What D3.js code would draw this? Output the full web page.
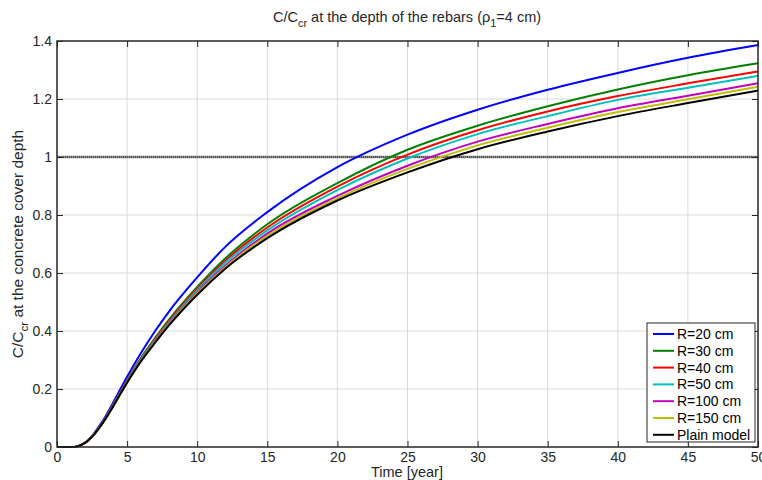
<!DOCTYPE html>
<html><head><meta charset="utf-8">
<script src="https://cdn.jsdelivr.net/npm/d3@7"></script>
<style>body{margin:0;background:#fff}svg{font-family:"Liberation Sans",Arial,sans-serif}</style>
</head><body><div id="chart"></div>
<script>
const times = [0,1,1.5,2,2.5,3,3.5,4,5,6,7,8,10,12,15,20,25,30,35,40,45,50];
const seriesNames = ["R=20 cm","R=30 cm","R=40 cm","R=50 cm","R=100 cm","R=150 cm","Plain model"];
const seriesColors = ["#0000ff","#008000","#ff0000","#00bfbf","#bf00bf","#bfbf00","#000000"];
const r20 = [0,0,0.003,0.015,0.038,0.071,0.109,0.153,0.242,0.325,0.4,0.468,0.585,0.69,0.81,0.965,1.077,1.163,1.232,1.29,1.342,1.386];
const r30 = [0,0,0.003,0.014,0.036,0.067,0.103,0.145,0.23,0.308,0.376,0.44,0.552,0.65,0.768,0.91,1.025,1.108,1.175,1.233,1.282,1.323];
const r40 = [0,0,0.003,0.014,0.036,0.066,0.102,0.144,0.228,0.305,0.372,0.435,0.546,0.642,0.757,0.898,1.008,1.092,1.157,1.21,1.254,1.295];
const r50 = [0,0,0.003,0.014,0.035,0.066,0.101,0.143,0.226,0.302,0.368,0.43,0.541,0.635,0.747,0.886,0.995,1.079,1.141,1.197,1.239,1.28];
const r100 = [0,0,0.003,0.014,0.035,0.065,0.1,0.141,0.224,0.299,0.364,0.425,0.534,0.625,0.736,0.866,0.97,1.053,1.114,1.168,1.211,1.254];
const r150 = [0,0,0.003,0.014,0.035,0.065,0.1,0.14,0.223,0.298,0.362,0.423,0.53,0.62,0.728,0.857,0.959,1.04,1.101,1.155,1.199,1.242];
const plain = [0,0,0.003,0.014,0.035,0.065,0.1,0.14,0.222,0.296,0.36,0.42,0.525,0.615,0.72,0.85,0.947,1.027,1.088,1.141,1.186,1.229];
const xTicks = [0,5,10,15,20,25,30,35,40,45,50];
const yTicks = [0,0.2,0.4,0.6,0.8,1,1.2,1.4];
const threshold = 1;

const allSeries = [r20,r30,r40,r50,r100,r150,plain];
const W = 762, H = 480;
const m = {left:57, right:4, top:41, bottom:33};
const svg = d3.select("#chart").append("svg").attr("width",W).attr("height",H);
const x = d3.scaleLinear().domain([0,50]).range([m.left, W-m.right]);
const y = d3.scaleLinear().domain([0,1.4]).range([H-m.bottom, m.top]);
const x0=x.range()[0], x1=x.range()[1], y0=y.range()[0], y1=y.range()[1];

// grid
const g = svg.append("g");
g.selectAll(".gx").data(xTicks.slice(1,-1)).join("line")
  .attr("x1",d=>x(d)).attr("x2",d=>x(d)).attr("y1",y0).attr("y2",y1)
  .attr("stroke","#d9d9d9").attr("stroke-width",1);
g.selectAll(".gy").data(yTicks.slice(1,-1)).join("line")
  .attr("x1",x0).attr("x2",x1).attr("y1",d=>y(d)).attr("y2",d=>y(d))
  .attr("stroke","#d9d9d9").attr("stroke-width",1);

// threshold line
svg.append("line").attr("x1",x0).attr("x2",x1).attr("y1",y(threshold)).attr("y2",y(threshold))
  .attr("stroke","#8c8c8c").attr("stroke-width",2.5);
svg.append("line").attr("x1",x0).attr("x2",x1).attr("y1",y(threshold)).attr("y2",y(threshold))
  .attr("stroke","#3c3c3c").attr("stroke-width",1.5).attr("stroke-dasharray","1,1");

// curves
const line = d3.line().x((d,i)=>x(times[i])).y(d=>y(d)).curve(d3.curveMonotoneX);
allSeries.forEach((s,i)=>{
  svg.append("path").datum(s).attr("d",line).attr("fill","none")
    .attr("stroke",seriesColors[i]).attr("stroke-width",2);
});

// axes (ticks inward)
const tl = 6;
const axB = svg.append("g").attr("transform",`translate(0,${y0})`)
  .call(d3.axisBottom(x).tickValues(xTicks).tickSize(-tl).tickPadding(5).tickFormat(d3.format("d")));
const axT = svg.append("g").attr("transform",`translate(0,${y1})`)
  .call(d3.axisTop(x).tickValues(xTicks).tickSize(-tl).tickFormat(""));
const axL = svg.append("g").attr("transform",`translate(${x0},0)`)
  .call(d3.axisLeft(y).tickValues(yTicks).tickSize(-tl).tickPadding(5).tickFormat(d=>d3.format("")(+d.toFixed(1))));
const axR = svg.append("g").attr("transform",`translate(${x1},0)`)
  .call(d3.axisRight(y).tickValues(yTicks).tickSize(-tl).tickFormat(""));
[axB,axT,axL,axR].forEach(a=>{
  a.select(".domain").remove();
  a.selectAll(".tick line").attr("stroke","#262626").attr("stroke-width",1);
  a.selectAll("text").attr("fill","#262626").style("font-size","14px");
});
axB.selectAll("text").attr("dy","0.7em");
// box
svg.append("rect").attr("x",x0).attr("y",y1).attr("width",x1-x0).attr("height",y0-y1)
  .attr("fill","none").attr("stroke","#262626").attr("stroke-width",1.5);

// title
const t = svg.append("text").attr("x",407).attr("y",22).attr("text-anchor","middle")
  .style("font-size","14.5px").attr("fill","#262626");
t.append("tspan").text("C/C");
t.append("tspan").text("cr").attr("dy",5).style("font-size","11px");
t.append("tspan").text(" at the depth of the rebars (ρ").attr("dy",-5);
t.append("tspan").text("1").attr("dy",5).style("font-size","11px");
t.append("tspan").text("=4 cm)").attr("dy",-5);

// x label
svg.append("text").attr("x",407).attr("y",477).attr("text-anchor","middle")
  .style("font-size","14.5px").attr("fill","#262626").text("Time [year]");

// y label
const yl = svg.append("text").attr("transform",`translate(23,${(y0+y1)/2}) rotate(-90)`)
  .attr("text-anchor","middle").style("font-size","15.5px").attr("fill","#262626");
yl.append("tspan").text("C/C");
yl.append("tspan").text("cr").attr("dy",5).style("font-size","11.5px");
yl.append("tspan").text(" at the concrete cover depth").attr("dy",-5);

// legend
const lg = svg.append("g");
lg.append("rect").attr("x",647).attr("y",323).attr("width",108).attr("height",119)
  .attr("fill","#fff").attr("stroke","#262626").attr("stroke-width",1);
seriesNames.forEach((n,i)=>{
  const yy = 334 + i*16.8;
  lg.append("line").attr("x1",653).attr("x2",674).attr("y1",yy).attr("y2",yy)
    .attr("stroke",seriesColors[i]).attr("stroke-width",2);
  lg.append("text").attr("x",677).attr("y",yy).attr("dy","0.35em")
    .style("font-size","14px").attr("fill","#000").text(n);
});
</script></body></html>
